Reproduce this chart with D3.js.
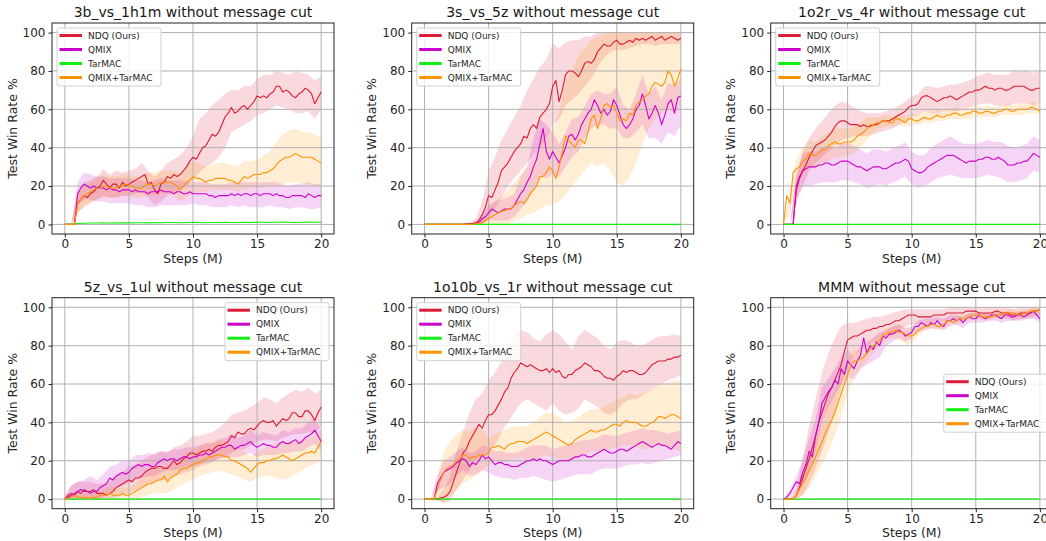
<!DOCTYPE html>
<html>
<head>
<meta charset="utf-8">
<script src="https://cdn.jsdelivr.net/npm/d3@7"></script>
<style>
  body { margin: 0; background: #fff; }
  svg { font-family: "DejaVu Sans", sans-serif; display: block; }
</style>
</head>
<body>
<svg id="chart" width="1046" height="541"></svg>
<script>
// methods, colours, ticks
const methods = ["NDQ (Ours)", "QMIX", "TarMAC", "QMIX+TarMAC"];
const colors = ["#dc1c34", "#cc00cc", "#11ee11", "#ff9300"];
const xTicks = [0, 5, 10, 15, 20];
const yTicks = [0, 20, 40, 60, 80, 100];
const panelTitles = ["3b_vs_1h1m without message cut", "3s_vs_5z without message cut", "1o2r_vs_4r without message cut",
  "5z_vs_1ul without message cut", "1o10b_vs_1r without message cut", "MMM without message cut"];
const legendSpots = ["upper left", "upper left", "upper left", "upper right", "upper left", "center right"];

// means are sampled every 0.25M steps (81 values), bands every 0.5M (41 values)
// TarMAC stays at zero in most maps
const tarmacFlat = [0,0,0,0,0,0,0,0,0,0,0,0,0,0,0,0,0,0,0,0,0];

// 3b_vs_1h1m
const ndq1 = [0,0,0,0, 11,13,15,14, 16,17,19,20, 23,21,19,21, 21,19,22,20, 21,22,23,24, 25,26,21,22, 18,16,21,22, 25,24,26,25, 26,28,30,33, 35,34,37,40, 41,44,47,46, 48,52,56,58, 61,58,59,61, 62,60,62,64, 67,66,67,66, 68,69,72,72, 69,70,69,67, 66,68,69,71, 70,68,63,66, 69];
const ndq1Lo = [0,0,6,9,11,13,15,14,14,15,15,16,17,14,10,12,15,17,18,20,23,27,30,32,35,40,48,50,52,54,57,58,60,62,61,60,58,58,59,55,60];
const ndq1Hi = [0,0,17,22,23,25,29,26,28,27,28,29,32,28,25,28,32,34,36,40,46,55,58,62,65,68,70,70,72,72,76,78,78,80,79,78,80,79,78,75,77];
const qmix1 = [0,0,0,0, 16,19,21,20, 19,20,19,19, 19,18,19,18, 18,17,18,18, 18,17,18,17, 17,17,16,17, 17,17,18,17, 17,17,16,17, 17,16,16,17, 16,16,16,16, 16,15,15,14, 15,15,15,15, 16,15,16,15, 16,16,15,16, 16,15,16,16, 16,15,16,15, 15,14,14,15, 15,15,15,14, 16,15,14,15, 15];
const qmix1Lo = [0,0,10,13,13,12,12,11,11,11,11,10,10,9,9,10,10,10,10,10,11,10,10,9,9,9,10,9,10,9,9,9,10,9,9,8,9,9,8,8,9];
const qmix1Hi = [0,0,22,27,26,25,25,24,24,24,24,23,23,22,23,24,23,23,23,22,22,22,22,21,21,21,22,22,22,22,22,22,22,22,21,20,21,21,22,21,21];
const tarmac1 = [0,0,0.5,0.6,0.7,0.7,0.8,0.7,0.8,0.9,0.8,0.9,0.9,0.8,1.0,0.9,1.0,1.0,0.9,1.0,1.1,1.0,0.9,1.0,1.0,1.1,1.0,1.0,1.1,1.0,1.2,1.1,1.0,1.1,1.2,1.1,1.0,1.1,1.2,1.1,1.2];
const qt1 = [0,0,0,0, 11,13,15,16, 17,18,19,19, 20,20,19,19, 19,20,20,21, 20,20,19,19, 19,20,21,21, 20,21,22,22, 22,22,21,20, 18,20,22,23, 25,24,24,23, 22,23,23,24, 24,24,24,23, 23,22,21,23, 25,24,25,26, 26,26,27,27, 28,29,31,33, 34,35,35,36, 37,36,35,35, 35,35,34,33, 32];
const qt1Lo = [0,0,6,10,12,13,14,14,14,15,15,14,14,15,15,16,16,15,12,14,16,17,17,18,18,18,18,17,18,19,19,19,20,20,21,22,22,21,21,20,20];
const qt1Hi = [0,0,16,20,22,24,26,25,25,26,26,25,25,27,27,28,28,28,26,30,33,32,30,31,32,32,31,30,33,33,34,36,38,43,47,49,50,48,48,47,45];

// 3s_vs_5z
const ndq2 = [0,0,0,0, 0,0,0,0, 0,0,0,0, 0,0.5,0.5,0.5, 1,2,5,9, 15,14,18,22, 28,30,32,35, 38,40,42,46, 45,50,52,50, 56,58,60,63, 72,75,64,70, 78,80,80,79, 77,80,84,85, 84,86,90,92, 94,93,93,95, 96,94,94,95, 96,95,97,96, 97,96,97,98, 96,97,98,96, 97,98,97,96, 97];
const ndq2Lo = [0,0,0,0,0,0,0,0, 0,0,3,8,14,20,24,28,32,36,40,45,52,55,62,65,68,72,76,82,87,90,91,91,92,93,94,94,93,94,94,94,94];
const ndq2Hi = [0,0,0,0,0,0,0,1, 3,12,28,35,44,50,56,62,70,76,82,86,94,92,95,96,96,98,98,100,100,100,100,100,100,100,100,100,100,100,100,100,100];
const qmix2 = [0,0,0,0, 0,0,0,0, 0,0,0,0, 0,0,0,0, 0.5,1,3,4, 6,8,7,6, 7,8,8,8, 10,13,16,18, 22,25,30,34, 42,50,38,34, 38,35,32,36, 40,46,47,44, 47,52,55,58, 60,65,62,58, 60,57,59,65, 62,57,52,50, 52,55,60,62, 68,62,55,58, 62,58,52,57, 63,65,58,66, 67];
const qmix2Lo = [0,0,0,0,0,0,0,0, 0,0,2,2,2,2,4,8,12,18,25,24,26,25,30,35,38,45,50,52,52,50,50,45,45,48,52,45,45,42,48,46,52];
const qmix2Hi = [0,0,0,0,0,0,0,0, 1,6,10,12,13,14,16,25,30,45,55,52,48,42,48,55,56,62,68,70,68,68,72,62,60,68,78,68,72,65,74,72,76];
const qt2 = [0,0,0,0, 0,0,0,0, 0,0,0,0, 0,0,0,0, 0.5,0.5,1,2, 3,4,5,6, 7,7,8,8, 10,11,12,11, 13,16,18,20, 25,25,27,30, 28,24,30,38, 46,44,42,40, 44,44,42,48, 55,57,50,55, 62,63,61,62, 58,54,55,54, 58,57,62,64, 65,67,68,72, 74,73,72,74, 80,78,72,76, 81];
const qt2Lo = [0,0,0,0,0,0,0,0, 0,0,0,0,0,0,2,3,5,6,8,10,10,12,15,20,24,28,32,30,32,28,22,20,25,32,42,50,55,58,60,58,62];
const qt2Hi = [0,0,0,0,0,0,0,0, 1,4,8,12,15,18,22,26,30,35,42,48,50,58,75,80,88,92,96,98,99,100,100,100,100,100,100,100,100,100,100,100,100];

// 1o2r_vs_4r
const ndq3 = [0,0,0,0, 18,24,28,31, 35,38,41,42, 43,44,46,48, 51,53,54,54, 53,52,52,52, 51,52,51,51, 52,52,53,54, 54,54,55,56, 57,58,59,61, 62,62,63,66, 67,67,66,65, 64,65,66,66, 67,66,65,66, 67,68,69,69, 70,70,71,72, 71,71,70,71, 71,70,70,71, 72,72,72,72, 71,70,70,71, 71];
const ndq3Lo = [0,0,10,20,28,32,35,38,41,44,45,46,46,46,47,48,49,50,52,54,56,57,59,58,58,59,59,59,60,61,62,63,63,62,62,62,63,63,63,62,63];
const ndq3Hi = [0,0,25,38,45,50,54,58,62,64,63,61,59,58,58,58,59,60,62,64,67,68,72,72,71,72,73,73,74,75,77,78,79,78,78,78,80,80,80,79,80];
const qmix3 = [0,0,0,0, 20,25,28,29, 30,30,30,31, 31,32,32,31, 31,32,33,33, 33,32,31,30, 30,29,28,29, 30,30,30,29, 29,30,31,32, 32,33,34,33, 29,28,27,27, 28,30,31,32, 33,34,35,36, 36,36,35,34, 33,32,33,33, 33,34,34,35, 35,34,34,35, 34,33,31,31, 31,32,32,33, 33,35,37,36, 35];
const qmix3Lo = [0,0,14,20,20,21,22,22,22,23,23,22,21,19,20,21,20,22,23,25,21,19,20,22,24,25,26,25,24,24,24,25,26,25,24,22,22,23,24,28,27];
const qmix3Hi = [0,0,26,37,38,38,40,41,40,42,42,41,39,37,39,39,38,40,41,43,38,36,36,40,42,44,46,44,42,42,42,43,44,43,43,41,40,41,42,46,44];
const qt3 = [0,15,11,27, 29,30,33,34, 37,36,36,37, 39,39,41,42, 43,42,42,43, 43,43,44,46, 47,48,50,52, 52,53,53,54, 54,53,53,55, 55,54,53,55, 55,54,54,55, 56,55,55,56, 57,56,56,57, 57,58,58,57, 57,58,58,59, 59,58,58,59, 59,58,58,59, 59,60,60,59, 59,60,60,60, 60,61,61,60, 59];
const qt3Lo = [0,5,22,26,30,29,32,33,35,35,36,37,40,44,48,50,51,51,52,51,52,52,53,53,54,54,55,55,55,55,56,56,56,56,57,57,57,57,58,58,57];
const qt3Hi = [0,16,34,40,44,43,46,48,50,50,50,51,53,56,56,56,57,56,58,56,58,57,59,58,60,59,60,61,60,61,62,61,62,61,62,63,62,63,63,64,62];

// 5z_vs_1ul
const ndq4 = [0,2,3,2, 4,3,5,4, 4,5,3,3, 3,2,3,4, 6,7,8,9, 10,9,11,11, 12,14,15,16, 16,17,17,16, 16,18,20,18, 19,21,22,24, 24,23,24,25, 25,26,25,27, 28,28,29,30, 33,32,35,34, 34,36,37,36, 38,40,41,40, 40,41,38,40, 42,41,42,45, 45,43,43,46, 46,44,41,45, 48];
const ndq4Lo = [0,0,0,0,0,0,0,0,1,2,3,5,6,8,9,10,10,12,13,14,15,17,18,19,21,22,24,26,26,28,30,31,31,30,32,33,34,34,35,34,38];
const ndq4Hi = [2,7,9,9,9,8,8,9,12,14,17,18,20,22,24,25,24,27,28,30,33,33,34,35,37,40,44,45,46,48,50,53,52,50,53,55,57,56,58,55,57];
const qmix4 = [0,1,2,3, 4,5,4,4, 3,4,4,6, 7,8,11,10, 12,13,14,13, 14,16,17,18, 17,18,18,17, 17,19,20,21, 20,21,21,20, 21,22,22,21, 22,22,23,23, 24,23,24,25, 26,27,27,28, 28,26,27,28, 28,29,30,28, 27,28,29,28, 28,27,27,29, 30,29,29,30, 31,29,30,32, 33,34,36,33, 30];
const qmix4Lo = [0,0,0,0,0,0,1,4,6,7,8,10,11,12,12,14,15,15,16,17,17,18,19,20,21,22,22,22,23,24,22,23,23,23,24,24,25,25,27,29,25];
const qmix4Hi = [1,7,9,10,12,10,13,17,18,20,20,23,23,24,23,25,25,26,26,27,27,28,29,29,31,32,34,32,33,36,33,35,34,33,36,35,37,37,40,42,36];
const qt4 = [0,0.5,1,2, 1,1,1,0.5, 0.5,1,1,2, 2,2,3,2, 2,2,3,2, 2,3,4,5, 6,7,8,8, 9,10,10,12, 9,11,12,13, 15,16,16,17, 18,19,19,20, 21,22,22,23, 23,23,22,22, 20,20,19,18, 17,16,14,16, 18,19,19,20, 20,21,21,22, 23,22,21,20, 21,22,23,24, 24,25,24,27, 30];
const qt4Lo = [0,0,0,0,0,0,0,0,0,0,0,0,1,2,3,3,3,5,7,9,10,12,13,14,15,14,13,12,10,9,11,12,12,11,10,11,13,15,17,18,21];
const qt4Hi = [0,3,4,3,3,4,5,6,6,6,6,8,11,14,16,17,17,19,22,24,26,27,29,30,31,30,28,27,25,22,25,26,28,29,30,30,30,31,32,33,36];

// 1o10b_vs_1r
const ndq5 = [0,0,0,0, 0,0.5,1,2, 4,9,14,19, 24,26,30,33, 36,39,37,41, 44,44,46,49, 52,56,58,63, 66,68,71,70, 69,70,69,68, 67,67,68,66, 68,66,67,64, 63,65,65,67, 68,69,71,70, 69,67,67,66, 64,63,63,62, 64,65,67,66, 67,67,66,65, 65,66,68,70, 71,72,72,72, 73,73,74,74, 75];
const ndq5Lo = [0,0,-1,-2,-1,5,10,15,20,22,25,28,35,40,45,50,52,50,48,46,50,46,44,45,47,52,50,48,45,44,46,50,52,52,54,56,58,60,62,63,65];
const ndq5Hi = [0,0,1,5,12,25,35,45,52,55,62,66,72,80,86,88,87,84,82,86,88,86,82,78,85,88,86,84,80,78,82,83,82,80,80,82,84,85,85,86,85];
const qmix5 = [0,0,0,0, 8,11,14,15, 16,17,19,20, 21,20,17,19, 18,20,23,21, 22,20,18,19, 19,18,18,17, 17,17,18,19, 20,20,21,20, 21,20,20,19, 18,19,20,20, 20,20,21,22, 22,23,23,22, 22,23,24,25, 26,25,24,24, 25,26,26,25, 26,27,28,29, 30,29,28,27, 28,29,28,28, 27,26,28,30, 29];
const qmix5Lo = [0,0,4,6,8,12,15,12,13,15,14,12,11,11,10,11,11,12,11,10,9,10,11,12,13,13,13,15,16,16,16,17,18,18,19,18,19,20,21,22,23];
const qmix5Hi = [0,0,12,20,22,25,27,24,25,28,27,25,25,24,24,25,27,28,28,28,26,27,28,29,30,31,31,32,34,33,33,34,35,36,37,36,36,35,34,35,36];
const qt5 = [0,0,0,0, 5,10,14,16, 17,18,20,21, 23,23,21,22, 22,23,23,23, 24,27,27,28, 27,26,28,29, 29,30,30,30, 29,30,31,32, 33,34,35,34, 33,32,31,30, 29,28,29,31, 32,33,34,35, 36,35,35,36, 36,37,38,39, 39,38,40,41, 40,40,40,39, 38,38,39,40, 41,43,43,42, 43,44,44,43, 42];
const qt5Lo = [0,0,0,-2,2,5,8,10,12,15,18,20,19,20,21,22,20,21,22,23,22,21,20,20,22,23,25,25,25,26,27,28,28,27,26,26,28,28,27,26,25];
const qt5Hi = [0,0,12,25,30,34,36,35,38,36,32,34,35,37,38,38,38,40,43,45,45,43,40,41,43,45,47,47,48,50,52,53,55,54,55,56,58,60,61,62,62];

// MMM
const ndq6 = [0,0,0,0, 2,6,11,16, 21,27,33,40, 45,50,55,58, 62,66,70,77, 83,84,85,85, 86,87,88,88, 89,89,90,90, 91,91,92,93, 93,94,95,96, 96,96,95,95, 95,95,95,96, 96,96,96,97, 97,97,97,97, 97,98,98,98, 98,97,97,97, 97,97,98,98, 97,97,97,96, 96,96,97,97, 97,97,98,98, 99];
const ndq6Lo = [0,0,0,2,8,16,25,35,45,58,70,74,78,80,82,84,85,86,88,90,91,91,92,92,93,93,94,94,94,95,95,94,94,95,94,94,93,94,94,95,96];
const ndq6Hi = [0,0,5,22,38,52,66,76,84,90,92,92,93,94,95,95,96,97,98,99,99,99,99,99,99,99,100,100,100,100,100,100,100,100,100,100,99,100,100,100,100];
const qmix6 = [0,1,3,6, 9,8,14,18, 25,22,33,40, 50,53,56,58, 62,60,68,65, 72,70,68,72, 75,84,76,80, 78,82,80,85, 84,86,86,87, 88,87,85,86, 87,90,90,92, 91,90,92,91, 93,91,90,93, 93,94,93,94, 92,94,95,94, 94,96,95,94, 95,96,96,95, 94,96,96,95, 95,96,96,95, 96,97,98,96, 94];
const qmix6Lo = [0,1,4,8,15,25,40,48,54,60,64,62,68,70,72,74,80,82,84,82,84,87,88,89,89,88,90,91,89,92,92,92,93,93,92,93,93,93,94,94,92];
const qmix6Hi = [0,5,12,20,32,42,58,63,68,74,78,74,80,82,84,87,88,90,91,89,90,93,94,94,95,94,96,96,95,97,97,97,97,98,97,98,97,98,98,99,97];
const qt6 = [0,0,0,0, 2,5,8,11, 15,18,22,26, 30,34,38,41, 45,50,55,60, 65,70,72,72, 73,74,76,78, 80,81,83,85, 86,87,87,88, 87,87,86,85, 85,86,88,89, 90,90,91,91, 90,90,91,93, 93,92,93,94, 94,94,95,96, 96,96,95,95, 95,95,96,96, 96,97,97,97, 97,96,96,97, 97,98,98,98, 99];
const qt6Lo = [0,0,0,2,6,12,18,25,33,42,55,64,68,72,76,80,83,84,83,81,81,85,88,89,88,89,91,91,92,93,94,93,93,94,94,95,95,94,95,96,97];
const qt6Hi = [0,0,4,14,24,32,40,50,57,66,74,78,78,80,84,86,89,90,91,90,89,91,92,93,92,93,95,95,96,97,98,97,97,98,98,99,99,98,99,100,100];

// series per panel, same order as methods
const panels = [
  [[ndq1, ndq1Lo, ndq1Hi], [qmix1, qmix1Lo, qmix1Hi], [tarmac1], [qt1, qt1Lo, qt1Hi]],
  [[ndq2, ndq2Lo, ndq2Hi], [qmix2, qmix2Lo, qmix2Hi], [tarmacFlat], [qt2, qt2Lo, qt2Hi]],
  [[ndq3, ndq3Lo, ndq3Hi], [qmix3, qmix3Lo, qmix3Hi], [tarmacFlat], [qt3, qt3Lo, qt3Hi]],
  [[ndq4, ndq4Lo, ndq4Hi], [qmix4, qmix4Lo, qmix4Hi], [tarmacFlat], [qt4, qt4Lo, qt4Hi]],
  [[ndq5, ndq5Lo, ndq5Hi], [qmix5, qmix5Lo, qmix5Hi], [tarmacFlat], [qt5, qt5Lo, qt5Hi]],
  [[ndq6, ndq6Lo, ndq6Hi], [qmix6, qmix6Lo, qmix6Hi], [tarmacFlat], [qt6, qt6Lo, qt6Hi]]
];

// layout
const colLeft = [52, 411.7, 770.7];
const rowTop = [23, 297.7];
const pw = 282, ph = 211;
const ink = "#262626";

const svg = d3.select("#chart");
const defs = svg.append("defs");

// spread values evenly over 0..20M steps
function toPoints(arr) {
  return arr.map((v, j) => [j * 20 / (arr.length - 1), v]);
}

panels.forEach(function(series, k) {
  const ox = colLeft[k % 3], oy = rowTop[Math.floor(k / 3)];
  const x = d3.scaleLinear().domain([-1, 21]).range([0, pw]);
  const y = d3.scaleLinear().domain([-5, 105]).range([ph, 0]);
  const g = svg.append("g").attr("transform", translate(ox, oy));

  defs.append("clipPath").attr("id", "clip" + k)
    .append("rect").attr("width", pw).attr("height", ph);
  const plot = g.append("g").attr("clip-path", "url(#clip" + k + ")");

  // shaded bands first (under the grid, like matplotlib)
  const area = d3.area()
    .x(d => x(d.x)).y0(d => y(d.lo)).y1(d => y(d.hi));
  series.forEach(function(s, i) {
    if (s.length < 3) return;
    const pts = s[1].map((v, j) => ({ x: j * 20 / (s[1].length - 1), lo: v, hi: s[2][j] }));
    plot.append("path").datum(pts)
      .attr("d", area)
      .attr("fill", colors[i])
      .attr("fill-opacity", 0.17)
      .attr("stroke", "none");
  });

  // grid
  plot.selectAll(".gx").data(xTicks).enter().append("line")
    .attr("x1", d => x(d)).attr("x2", d => x(d))
    .attr("y1", 0).attr("y2", ph)
    .attr("stroke", "#b0b0b0").attr("stroke-width", 1);
  plot.selectAll(".gy").data(yTicks).enter().append("line")
    .attr("x1", 0).attr("x2", pw)
    .attr("y1", d => y(d)).attr("y2", d => y(d))
    .attr("stroke", "#b0b0b0").attr("stroke-width", 1);

  // mean lines
  const line = d3.line().x(d => x(d[0])).y(d => y(d[1]));
  series.forEach(function(s, i) {
    plot.append("path").datum(toPoints(s[0]))
      .attr("d", line)
      .attr("fill", "none")
      .attr("stroke", colors[i])
      .attr("stroke-width", 1.1)
      .attr("stroke-linejoin", "round");
  });

  // axes
  const xAxis = g.append("g").attr("transform", translate(0, ph))
    .call(d3.axisBottom(x).tickValues(xTicks).tickSize(3.5).tickSizeOuter(0).tickPadding(2));
  const yAxis = g.append("g")
    .call(d3.axisLeft(y).tickValues(yTicks).tickSize(3.5).tickSizeOuter(0).tickPadding(3));
  [xAxis, yAxis].forEach(function(a) {
    a.select(".domain").remove();
    a.attr("color", ink).attr("font-family", "DejaVu Sans").attr("font-size", 12);
  });

  // frame
  g.append("rect").attr("width", pw).attr("height", ph)
    .attr("fill", "none").attr("stroke", "#222").attr("stroke-width", 1);

  // texts
  g.append("text").attr("x", pw / 2).attr("y", -6)
    .attr("text-anchor", "middle").attr("font-size", 14).attr("fill", "#1a1a1a")
    .text(panelTitles[k]);
  g.append("text").attr("x", pw / 2).attr("y", ph + 28.5)
    .attr("text-anchor", "middle").attr("font-size", 12.5).attr("fill", ink)
    .text("Steps (M)");
  g.append("text").attr("transform", translate(-35.5, ph / 2) + " rotate(-90)")
    .attr("text-anchor", "middle").attr("font-size", 12.5).attr("fill", ink)
    .text("Test Win Rate %");

  // legend
  const lw = 104, lh = 58;
  let lx = 5, ly = 5;
  if (legendSpots[k] == "upper right") { lx = pw - 5 - lw; }
  if (legendSpots[k] == "center right") { lx = pw - 5 - lw; ly = ph / 2 - lh / 2; }
  const leg = g.append("g").attr("transform", translate(lx, ly));
  leg.append("rect").attr("width", lw).attr("height", lh).attr("rx", 2)
    .attr("fill", "#fff").attr("fill-opacity", 0.8)
    .attr("stroke", "#d0d0d0").attr("stroke-width", 1);
  methods.forEach(function(m, i) {
    const ry = 7.5 + i * 14;
    leg.append("line").attr("x1", 2.5).attr("x2", 25).attr("y1", ry).attr("y2", ry)
      .attr("stroke", colors[i]).attr("stroke-width", 3);
    leg.append("text").attr("x", 31).attr("y", ry).attr("dy", "0.35em")
      .attr("font-size", 9).attr("fill", ink).text(m);
  });
});

function translate(x, y) {
  return "translate(" + x + "," + y + ")";
}
</script>
</body>
</html>
